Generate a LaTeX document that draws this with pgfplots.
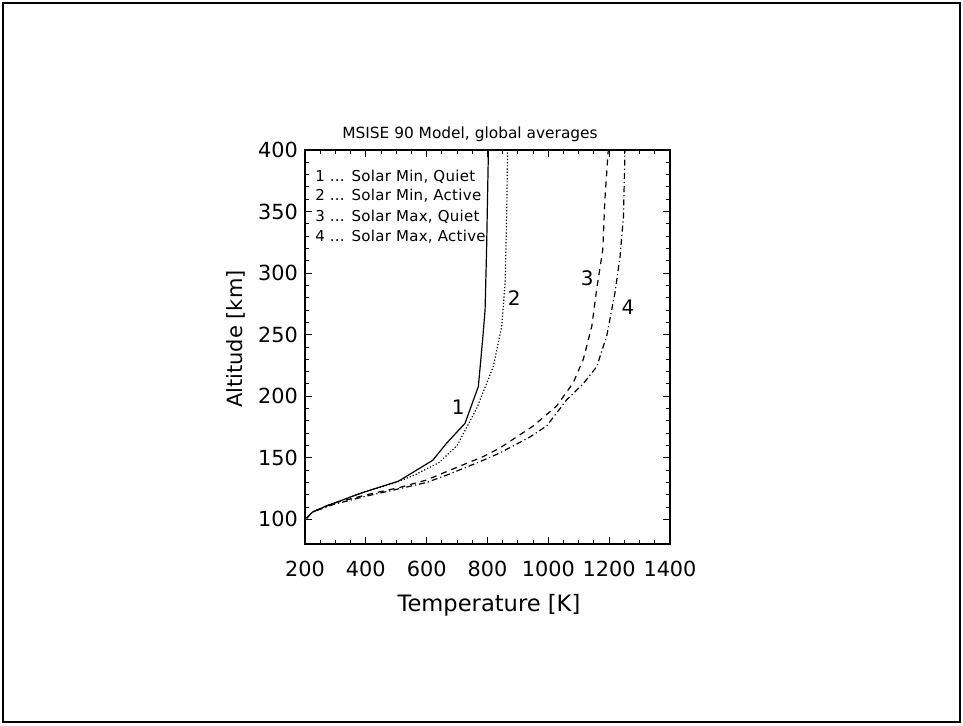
\documentclass[border=0pt]{standalone}
\usepackage{fontspec}
\setmainfont{DejaVu Sans}
\newfontfamily\legfont[LetterSpace=2]{DejaVu Sans}
\usepackage{pgfplots}
\pgfplotsset{compat=1.18}
\begin{document}
\begin{tikzpicture}
\useasboundingbox (0,0) rectangle (481.5pt,362.5pt);
\draw[line width=1pt] (1.5pt,1.5pt) rectangle (480pt,361pt);
\begin{axis}[
 at={(152.5pt,90.5pt)}, anchor=south west,
 scale only axis, width=182.5pt, height=197pt,
 xmin=200, xmax=1400, ymin=80, ymax=400,
 xtick={200,400,...,1400}, ytick={100,150,...,400},
 minor x tick num=3, minor y tick num=4,
 tick align=inside, major tick length=3.5pt, minor tick length=2pt,
 tick style={black, line width=0.5pt},
 axis line style={line width=0.7pt},
 /pgf/number format/assume math mode=true,
 /pgf/number format/1000 sep={},
 ticklabel style={font=\fontsize{10.4}{12}\selectfont},
 xticklabel style={yshift=-5pt},
 xlabel={Temperature [K]},
 ylabel={Altitude [km]},
 xlabel style={at={(axis description cs:0.504,-0.155)}, anchor=center, font=\fontsize{11.3}{13}\selectfont},
 ylabel style={at={(axis description cs:-0.189,0.52)}, anchor=center, font=\fontsize{10.5}{12}\selectfont},
 title={MSISE 90 Model, global averages},
 every axis title shift=0pt,
 title style={at={(axis description cs:0.452,1.028)}, anchor=base, yshift=0pt, font=\fontsize{7.7}{9}\selectfont},
]
% 1: Solar Min, Quiet
\addplot[black, line width=0.6pt] coordinates {
 (205,101) (225,106) (271,111) (392,122) (507,131) (620,148) (666,162)
 (726,178) (770,208) (784,246) (792,270) (797,319) (800,360) (803,400)};
% 2: Solar Min, Active
\addplot[black, line width=0.6pt, dash pattern=on 0.6pt off 1pt] coordinates {
 (205,101) (225,106) (271,111) (392,122) (500,130) (560,136) (640,146)
 (700,160) (764,190) (819,224) (847,257) (858,292) (863,346) (866,400)};
% 3: Solar Max, Quiet
\addplot[black, line width=0.6pt, dash pattern=on 3pt off 2.5pt] coordinates {
 (205,101) (225,106) (292,113) (403,120) (512,126) (600,132) (677,140)
 (786,151) (841,158) (951,176) (1027,192) (1082,211) (1115,230) (1143,257)
 (1159,287) (1179,319) (1186,360) (1197,400)};
% 4: Solar Max, Active
\addplot[black, line width=0.6pt, dash pattern=on 3pt off 1.5pt on 0.6pt off 1.5pt] coordinates {
 (205,101) (225,106) (292,112) (403,119) (512,125) (600,130) (677,137)
 (786,148) (841,154) (940,167) (995,176) (1060,197) (1114,210) (1159,224)
 (1192,249) (1219,284) (1236,314) (1247,346) (1252,400)};
% curve labels
\node[font=\fontsize{10}{12}\selectfont] at (axis cs:704,191) {1};
\node[font=\fontsize{10}{12}\selectfont] at (axis cs:888,280) {2};
\node[font=\fontsize{10}{12}\selectfont] at (axis cs:1128,296) {3};
\node[font=\fontsize{10}{12}\selectfont] at (axis cs:1262,272) {4};
% legend text
\node[anchor=base west, inner sep=0pt, font=\legfont\fontsize{7.5}{8}\selectfont] at (axis description cs:0.027,0.9213) {1 ... Solar Min, Quiet};
\node[anchor=base west, inner sep=0pt, font=\legfont\fontsize{7.5}{8}\selectfont] at (axis description cs:0.027,0.8706) {2 ... Solar Min, Active};
\node[anchor=base west, inner sep=0pt, font=\legfont\fontsize{7.5}{8}\selectfont] at (axis description cs:0.027,0.8198) {3 ... Solar Max, Quiet};
\node[anchor=base west, inner sep=0pt, font=\legfont\fontsize{7.5}{8}\selectfont] at (axis description cs:0.027,0.7690) {4 ... Solar Max, Active};
\end{axis}
\end{tikzpicture}
\end{document}
